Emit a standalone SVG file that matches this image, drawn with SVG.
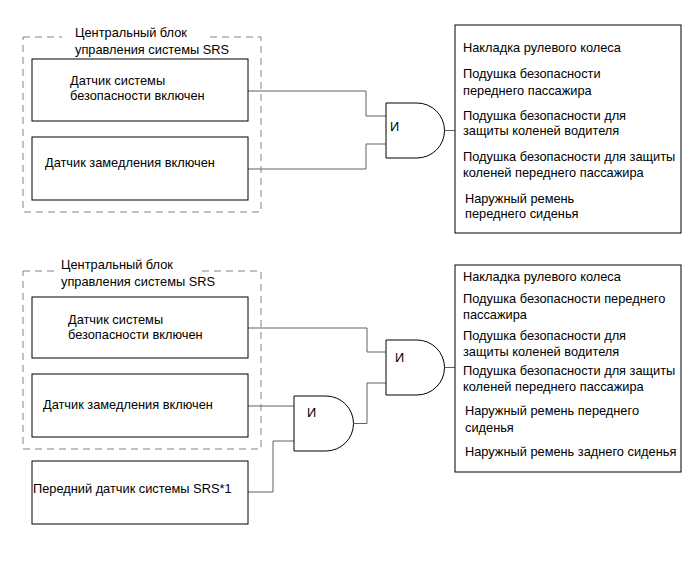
<svg xmlns="http://www.w3.org/2000/svg" width="692" height="562" viewBox="0 0 692 562">
<style>
  text { font-family: "Liberation Sans", Arial, sans-serif; font-size: 12.8px; fill: #000; }
  .box { fill: #fff; stroke: #000; stroke-width: 1; }
  .gate { fill: #fff; stroke: #000; stroke-width: 1; }
  .dash { fill: none; stroke: #808080; stroke-width: 1; stroke-dasharray: 7 5; }
  .wire { fill: none; stroke: #606060; stroke-width: 1; }
</style>
<rect width="692" height="562" fill="#fff"/>

<g id="connectors">
  <polyline class="wire" points="248,91 366,91 366,116 386,116"/>
  <polyline class="wire" points="248,169 366,169 366,144 386,144"/>
  <polyline class="wire" points="444.5,130.5 455,130.5"/>
  <polyline class="wire" points="248,328 367,328 367,352 386,352"/>
  <polyline class="wire" points="248,406 294,406"/>
  <polyline class="wire" points="248,492 273,492 273,441 294,441"/>
  <polyline class="wire" points="353.5,423.5 367,423.5 367,383 386,383"/>
  <polyline class="wire" points="444.5,367.5 455,367.5"/>
</g>

<g id="ecu-top">
  <path class="dash" d="M23,37 H62 M210,37 H261 V212 H23 V37"/>
  <text x="75" y="37">Центральный блок</text>
  <text x="75" y="54">управления системы SRS</text>
</g>
<g id="sensor-safety-top">
  <rect class="box" x="32" y="59" width="216" height="62"/>
  <text x="70" y="85">Датчик системы</text>
  <text x="70" y="100">безопасности включен</text>
</g>
<g id="sensor-decel-top">
  <rect class="box" x="32" y="137" width="216" height="63"/>
  <text x="45" y="167">Датчик замедления включен</text>
</g>
<g id="and-top">
  <path class="gate" d="M386,103 H417 A27.5,27.5 0 0 1 417,158 H386 Z"/>
  <text x="390" y="131">И</text>
</g>
<g id="outputs-top">
  <rect class="box" x="455" y="25" width="226" height="208"/>
  <text x="463" y="52">Накладка рулевого колеса</text>
  <text x="463" y="78">Подушка безопасности</text>
  <text x="463" y="95">переднего пассажира</text>
  <text x="463" y="120">Подушка безопасности для</text>
  <text x="463" y="135">защиты коленей водителя</text>
  <text x="463" y="161">Подушка безопасности для защиты</text>
  <text x="463" y="177">коленей переднего пассажира</text>
  <text x="465" y="203">Наружный ремень</text>
  <text x="465" y="218">переднего сиденья</text>
</g>

<g id="ecu-bottom">
  <path class="dash" d="M23,271 H56 M202,271 H261 V449 H23 V271"/>
  <text x="61" y="269">Центральный блок</text>
  <text x="61" y="286">управления системы SRS</text>
</g>
<g id="sensor-safety-bottom">
  <rect class="box" x="32" y="297" width="216" height="61"/>
  <text x="68" y="324">Датчик системы</text>
  <text x="68" y="339">безопасности включен</text>
</g>
<g id="sensor-decel-bottom">
  <rect class="box" x="32" y="374" width="216" height="63"/>
  <text x="43" y="409">Датчик замедления включен</text>
</g>
<g id="sensor-front">
  <rect class="box" x="32" y="461" width="216" height="63"/>
  <text x="33" y="493">Передний датчик системы SRS*1</text>
</g>
<g id="and-bottom-2">
  <path class="gate" d="M294,396 H326 A27.5,27.5 0 0 1 326,451 H294 Z"/>
  <text x="307" y="417">И</text>
</g>
<g id="and-bottom-1">
  <path class="gate" d="M386,340 H417 A27.5,27.5 0 0 1 417,395 H386 Z"/>
  <text x="395" y="362">И</text>
</g>
<g id="outputs-bottom">
  <rect class="box" x="455" y="265" width="226" height="207"/>
  <text x="463" y="281">Накладка рулевого колеса</text>
  <text x="463" y="303">Подушка безопасности переднего</text>
  <text x="463" y="319">пассажира</text>
  <text x="463" y="340">Подушка безопасности для</text>
  <text x="463" y="356">защиты коленей водителя</text>
  <text x="463" y="375">Подушка безопасности для защиты</text>
  <text x="463" y="391">коленей переднего пассажира</text>
  <text x="465" y="415">Наружный ремень переднего</text>
  <text x="465" y="432">сиденья</text>
  <text x="465" y="456">Наружный ремень заднего сиденья</text>
</g>
</svg>
